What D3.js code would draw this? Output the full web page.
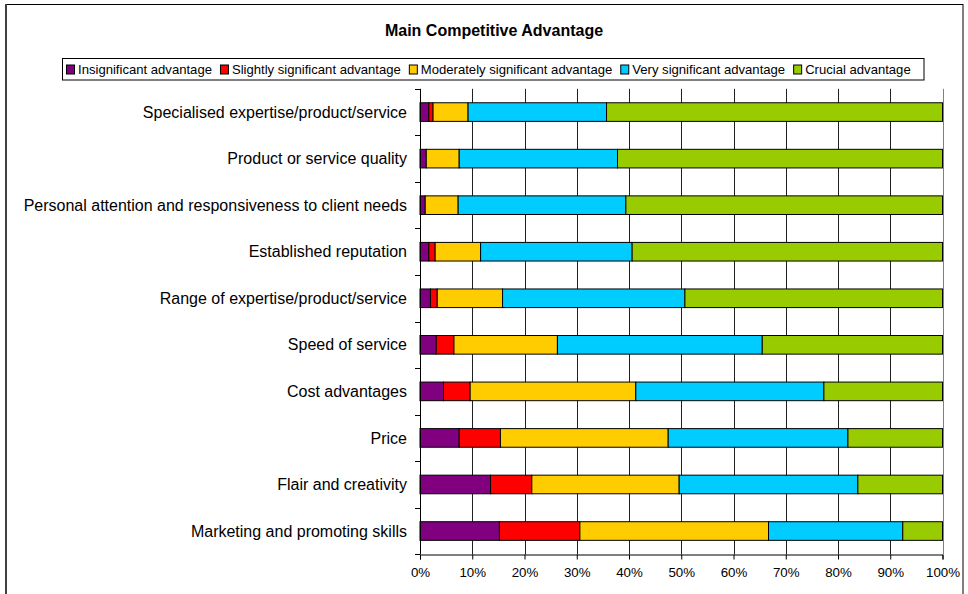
<!DOCTYPE html>
<html>
<head>
<meta charset="utf-8">
<script src="https://cdn.jsdelivr.net/npm/d3@7"></script>
<style>
  body { margin: 0; background: #fff; }
  svg { display: block; font-family: "Liberation Sans", Arial, sans-serif; }
</style>
</head>
<body>
<svg id="chart" width="968" height="594"></svg>
<script>
// Survey answers: share of respondents per rating, by advantage (top to bottom)
const categories = [
  "Specialised expertise/product/service",
  "Product or service quality",
  "Personal attention and responsiveness to client needs",
  "Established reputation",
  "Range of expertise/product/service",
  "Speed of service",
  "Cost advantages",
  "Price",
  "Flair and creativity",
  "Marketing and promoting skills"
];
const seriesNames = [
  "Insignificant advantage",
  "Slightly significant advantage",
  "Moderately significant advantage",
  "Very significant advantage",
  "Crucial advantage"
];
const seriesColors = ["#800080", "#FF0000", "#FFCC00", "#00CCFF", "#99CC00"];

const insignificant = [1.7, 1.2, 1.0, 1.7, 2.0, 3.1, 4.5, 7.5, 13.5, 15.2];
const slightly      = [0.8, 0.0, 0.0, 1.2, 1.3, 3.4, 5.1, 7.9, 7.9, 15.4];
const moderately    = [6.7, 6.3, 6.3, 8.7, 12.5, 19.8, 31.7, 32.1, 28.2, 36.1];
const very          = [26.5, 30.3, 32.1, 29.0, 34.9, 39.2, 36.0, 34.4, 34.2, 25.7];
const crucial       = [64.3, 62.2, 60.6, 59.4, 49.3, 34.5, 22.7, 18.1, 16.2, 7.6];

const tickValues = [0, 0.1, 0.2, 0.3, 0.4, 0.5, 0.6, 0.7, 0.8, 0.9, 1];
const tickLabels = ["0%", "10%", "20%", "30%", "40%", "50%", "60%", "70%", "80%", "90%", "100%"];

const seriesValues = [insignificant, slightly, moderately, very, crucial];
const rows = categories.map((c, i) => {
  const r = { category: c };
  seriesNames.forEach((s, j) => { r[s] = seriesValues[j][i]; });
  return r;
});

const svg = d3.select("#chart");

// Outer frame
svg.append("rect")
  .attr("x", 6).attr("y", 4.5).attr("width", 957).attr("height", 620)
  .attr("fill", "none").attr("stroke", "#000").attr("stroke-width", 1);
svg.append("line")
  .attr("x1", 6).attr("x2", 6).attr("y1", 4).attr("y2", 594)
  .attr("stroke", "#404040").attr("stroke-width", 2);

// Title
svg.append("text")
  .attr("x", 494).attr("y", 36)
  .attr("text-anchor", "middle")
  .attr("font-size", 16).attr("font-weight", "bold")
  .text("Main Competitive Advantage");

// Scales
const plot = { left: 420, right: 942.5, top: 88.8, bottom: 554.3 };
const x = d3.scaleLinear().domain([0, 1]).range([plot.left, plot.right]);
const y = d3.scaleBand().domain(categories)
  .range([plot.top, plot.bottom]).paddingInner(0.6).paddingOuter(0.3);

// Vertical gridlines
svg.append("g").selectAll("line")
  .data(tickValues.slice(1))
  .join("line")
  .attr("x1", d => Math.round(x(d)) + 0.5).attr("x2", d => Math.round(x(d)) + 0.5)
  .attr("y1", plot.top).attr("y2", plot.bottom)
  .attr("stroke", d => d === 1 ? "#808080" : "#202020").attr("stroke-width", 1);

// Stacked bars
const stack = d3.stack().keys(seriesNames).offset(d3.stackOffsetExpand);
const layers = stack(rows);
svg.append("g").selectAll("g")
  .data(layers)
  .join("g")
  .attr("fill", (d, i) => seriesColors[i])
  .selectAll("rect")
  .data(d => d)
  .join("rect")
  .attr("x", d => x(d[0]))
  .attr("y", d => y(d.data.category))
  .attr("width", d => Math.max(0, x(d[1]) - x(d[0])))
  .attr("height", y.bandwidth())
  .attr("stroke", "#000").attr("stroke-width", 1);

// Bottom axis
const xAxis = d3.axisBottom(x).tickValues(tickValues)
  .tickFormat((d, i) => tickLabels[i]).tickSize(5).tickPadding(8);
const gx = svg.append("g")
  .attr("transform", `translate(0,${Math.round(plot.bottom) + 0.5})`)
  .call(xAxis);
gx.select(".domain").attr("stroke", "#000");
gx.selectAll(".tick line").attr("stroke", "#000");
gx.selectAll("text").attr("font-size", 13.3).attr("fill", "#000")
  .attr("font-family", "Liberation Sans, Arial, sans-serif");

// Left axis: line with ticks between categories
svg.append("line")
  .attr("x1", plot.left + 0.5).attr("x2", plot.left + 0.5)
  .attr("y1", plot.top).attr("y2", plot.bottom)
  .attr("stroke", "#000");
const step = y.step();
svg.append("g").selectAll("line")
  .data(d3.range(categories.length + 1))
  .join("line")
  .attr("x1", plot.left - 5).attr("x2", plot.left)
  .attr("y1", i => Math.round(plot.top + i * step) + 0.5)
  .attr("y2", i => Math.round(plot.top + i * step) + 0.5)
  .attr("stroke", "#000");

// Category labels
svg.append("g").selectAll("text")
  .data(categories)
  .join("text")
  .attr("x", 407)
  .attr("y", d => y(d) + y.bandwidth() / 2)
  .attr("dy", "0.35em")
  .attr("text-anchor", "end")
  .attr("font-size", 16)
  .text(d => d);

// Legend
const legend = svg.append("g");
let lx = 66;
const ly = 69.5;
seriesNames.forEach((name, i) => {
  legend.append("rect")
    .attr("x", lx + 0.5).attr("y", ly - 4.5).attr("width", 8).attr("height", 9)
    .attr("fill", seriesColors[i]).attr("stroke", "#000");
  const t = legend.append("text")
    .attr("x", lx + 12).attr("y", ly).attr("dy", "0.35em")
    .attr("font-size", 13.1)
    .text(name);
  lx += 12 + t.node().getComputedTextLength() + 8;
});
legend.insert("rect", ":first-child")
  .attr("x", 62.5).attr("y", 58.5).attr("width", 924 - 62.5).attr("height", 21.5)
  .attr("fill", "#fff").attr("stroke", "#000");
</script>
</body>
</html>
